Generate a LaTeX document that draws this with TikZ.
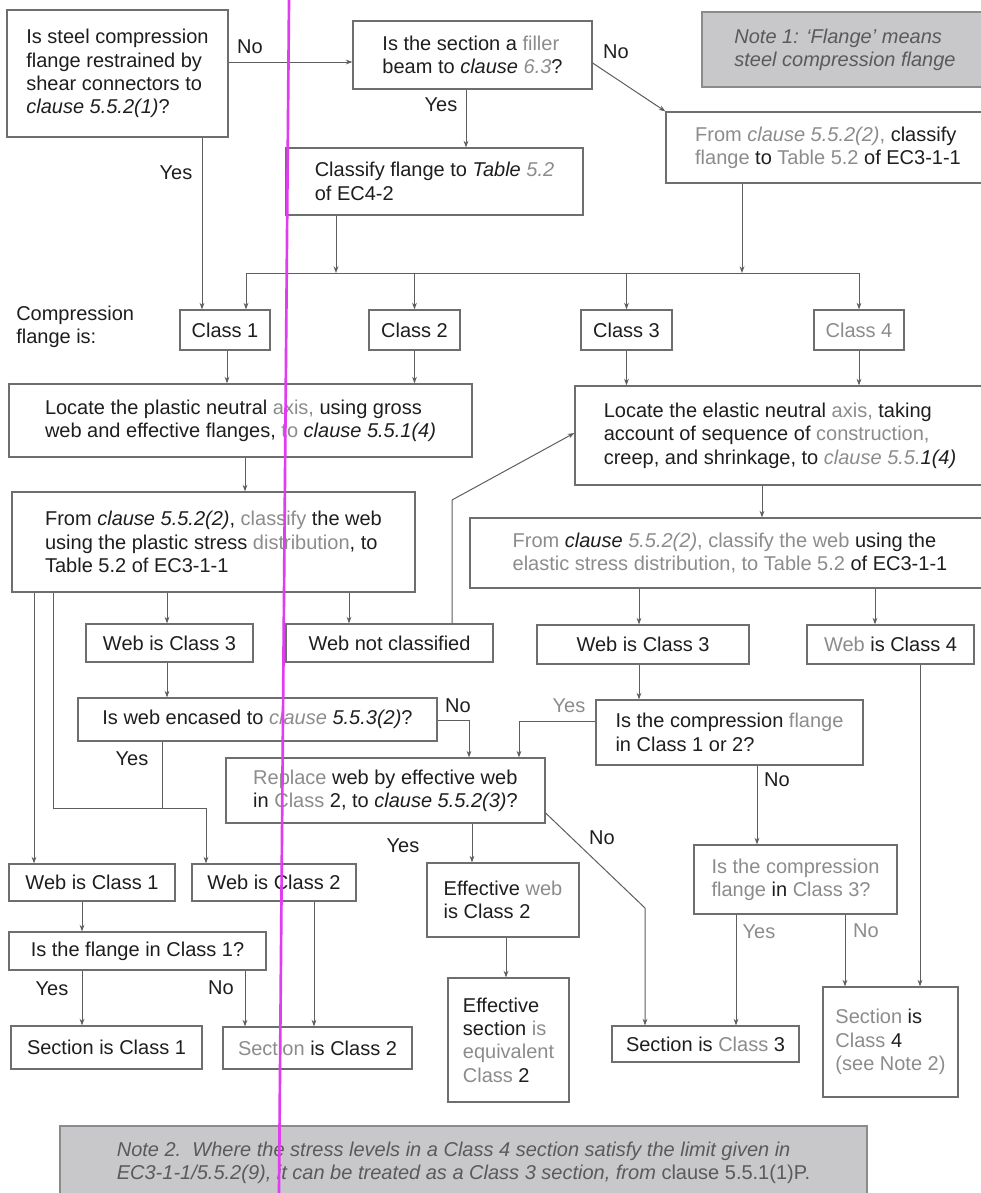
\documentclass[tikz,border=0pt]{standalone}
\usepackage{fontspec}
\setmainfont{Liberation Sans}
\usetikzlibrary{arrows.meta}
\definecolor{dk}{HTML}{1E1E1E}
\definecolor{lt}{HTML}{8C8C8C}
\definecolor{ln}{HTML}{5E5E5E}
\definecolor{bd}{HTML}{6E6E6E}
\definecolor{notefill}{HTML}{C8C8CA}
\definecolor{notetext}{HTML}{5A5A5A}
\definecolor{guide}{HTML}{E03CF0}
\newcommand\gw[1]{\textcolor{lt}{#1}}
\newcommand\mkbox[7][]{\node[box,#1,minimum width={(#5-#3)*0.75pt},minimum height={(#6-#4)*0.75pt}] (#2) at ({(#3+#5)/2},{(#4+#6)/2}) {#7};}
\tikzset{
  box/.style={draw=bd,line width=0.9pt,fill=white,inner sep=0pt,align=left,text=dk},
  notebox/.style={box,fill=notefill,draw=bd!80,text=notetext,font=\fontsize{15}{17.5}\selectfont\itshape},
  arr/.style={draw=ln,line width=0.75pt,-{Stealth[length=5pt,width=3.6pt]}},
  cn/.style={draw=ln,line width=0.75pt},
  lbl/.style={inner sep=0pt,text=dk},
}
\begin{document}
\begin{tikzpicture}[x=0.75pt,y=-0.75pt,font=\fontsize{15}{17.5}\selectfont]
\useasboundingbox (0,0) rectangle (981,1193);
\fill[white] (0,0) rectangle (981,1193);

% boxes
\mkbox{A}{7}{10}{228}{137}{Is steel compression\\flange restrained by\\shear connectors to\\\textit{clause 5.5.2(1)}?}
\mkbox{B}{353}{21}{592}{89}{Is the section a \gw{filler}\\beam to \textit{clause \gw{6.3}}?}
\mkbox{C}{286}{148}{583}{215}{Classify flange to \textit{Table} \gw{\textit{5.2}}\\of EC4-2}
\mkbox[notebox]{NA}{702}{12}{988}{87}{Note 1: `Flange' means\\steel compression flange}
\mkbox{D}{666}{112}{990}{183}{\gw{From \textit{clause 5.5.2(2)},} classify\\\gw{flange} to \gw{Table 5.2} of EC3-1-1}
\mkbox{C1}{180}{310}{270}{350}{Class 1}
\mkbox{C2}{369}{310}{460}{350}{Class 2}
\mkbox{C3}{581}{310}{672}{350}{Class 3}
\mkbox{C4}{814}{310}{904}{350}{\gw{Class 4}}
\mkbox{E}{9}{384}{472}{457}{Locate the plastic neutral \gw{axis,} using gross\\web and effective flanges, \gw{to} \textit{clause 5.5.1(4)}}
\mkbox{F}{575}{386}{985}{485}{Locate the elastic neutral \gw{axis,} taking\\account of sequence of \gw{construction,}\\creep, and shrinkage, to \textit{\gw{clause 5.5.}1(4)}}
\mkbox{G}{12}{492}{415}{592}{From \textit{clause 5.5.2(2)}, \gw{classify} the web\\using the plastic stress \gw{distribution}, to\\Table 5.2 of EC3-1-1}
\mkbox{H}{470}{518}{990}{588}{\gw{From} \textit{clause \gw{5.5.2(2)}}\gw{, classify the web} using the\\\gw{elastic stress distribution, to Table 5.2} of EC3-1-1}
\mkbox{I}{286}{624}{493}{662}{Web not classified}
\mkbox{J}{86}{624}{253}{662}{Web is Class 3}
\mkbox{J2}{537}{625}{749}{664}{Web is Class 3}
\mkbox{W4}{807}{625}{974}{664}{\gw{Web} is Class 4}
\mkbox{K}{78}{698}{437}{741}{Is web encased to \textit{\gw{clause} 5.5.3(2)}?}
\mkbox{U}{596}{700}{863}{765}{Is the compression \gw{flange}\\in Class 1 or 2?}
\mkbox{L}{226}{758}{545}{823}{\gw{Replace} web by effective web\\in \gw{Class} 2, to \textit{clause 5.5.2(3)}?}
\mkbox{M}{9}{864}{175}{901}{Web is Class 1}
\mkbox{N}{192}{864}{356}{901}{Web is Class 2}
\mkbox{R}{427}{863}{579}{937}{Effective \gw{web}\\is Class 2}
\mkbox{V}{694}{845}{897}{914}{\gw{Is the compression}\\\gw{flange} in \gw{Class 3?}}
\mkbox{O}{9}{932}{266}{970}{Is the flange in Class 1?}
\mkbox{S}{448}{978}{569}{1102}{Effective\\section \gw{is}\\\gw{equivalent}\\\gw{Class} 2}
\mkbox{X}{823}{987}{958}{1097}{\gw{Section} is\\\gw{Class} 4\\\gw{(see Note 2)}}
\mkbox{P}{11}{1026}{202}{1069}{Section is Class 1}
\mkbox{Q}{223}{1027}{412}{1069}{\gw{Section} is Class 2}
\mkbox{T}{612}{1026}{799}{1062}{Section is \gw{Class} 3}
\mkbox[notebox]{NB}{60}{1126}{867}{1200}{Note 2.\ \ Where the stress levels in a Class 4 section satisfy the limit given in\\EC3-1-1/5.5.2(9), it can be treated as a Class 3 section, from \upshape clause 5.5.1(1)P.}

\node[lbl,anchor=west,align=left] (CFI) at (16,327) {Compression\\flange is:};

% connectors
\draw[arr] (A.east |- 0,62) -- (B.west |- 0,62);
\node[lbl] (noA) at (250,47) {No};
\draw[arr] (B.south -| 466,0) -- (C.north -| 466,0);
\node[lbl] (yesB) at (441,105) {Yes};
\draw[arr] (B.east |- 0,63) -- (D.north west);
\node[lbl] (noB) at (616,52) {No};

\coordinate (busL) at (246,273);
\coordinate (busR) at (859,273);
\draw[cn] (busL) -- (busR);
\draw[arr] (C.south -| 336,0) -- (busL -| 336,0);
\draw[arr] (D.south -| 742,0) -- (busL -| 742,0);
\draw[arr] (busL) -- (C1.north -| busL);
\draw[arr] (C2.north |- busL) -- (C2.north);
\draw[arr] (C3.north |- busL) -- (C3.north);
\draw[arr] (C4.north |- busL) -- (C4.north);
\draw[arr] (A.south -| 202,0) -- (C1.north -| 202,0);
\node[lbl] (yesA) at (176,173) {Yes};

\draw[arr] (C1.south -| 227,0) -- (E.north -| 227,0);
\draw[arr] (C2.south) -- (E.north -| C2.south);
\draw[arr] (C3.south) -- (F.north -| C3.south);
\draw[arr] (C4.south) -- (F.north -| C4.south);
\draw[arr] (E.south -| 245,0) -- (G.north -| 245,0);
\draw[arr] (F.south -| 762,0) -- (H.north -| 762,0);

\draw[arr] (G.south -| 34,0) -- (M.north -| 34,0);
\draw[arr] (G.south -| 53,0) -- (53,808) -- (206,808) -- (N.north -| 206,0);
\draw[arr] (G.south -| 167,0) -- (J.north -| 167,0);
\draw[arr] (G.south -| 349,0) -- (I.north -| 349,0);
\draw[arr] (I.north -| 452,0) -- (452,500) -- (F.west |- 0,433);
\draw[arr] (J.south -| 167,0) -- (K.north -| 167,0);
\draw[arr] (K.east |- 0,720) -- (469,720) -- (L.north -| 469,0);
\node[lbl] (noK) at (458,706) {No};
\draw[cn] (K.south -| 162,0) -- (162,808);
\node[lbl] (yesK) at (132,759) {Yes};

\draw[arr] (L.south -| 472,0) -- (R.north -| 472,0);
\node[lbl] (yesL) at (403,846) {Yes};
\draw[arr] (L.east |- 0,813) -- (645,908) -- (T.north -| 645,0);
\node[lbl] (noL) at (602,838) {No};
\draw[arr] (R.south -| 506,0) -- (S.north -| 506,0);

\draw[arr] (H.south -| 639,0) -- (J2.north -| 639,0);
\draw[arr] (H.south -| 875,0) -- (W4.north -| 875,0);
\draw[arr] (J2.south -| 639,0) -- (U.north -| 639,0);
\draw[arr] (U.west |- 0,721) -- (519,721) -- (L.north -| 519,0);
\node[lbl,text=lt] (yesU) at (569,706) {Yes};
\draw[arr] (U.south -| 757,0) -- (V.north -| 757,0);
\node[lbl] (noU) at (777,780) {No};
\draw[arr] (V.south -| 736,0) -- (T.north -| 736,0);
\node[lbl,text=lt] (yesV) at (759,932) {Yes};
\draw[arr] (V.south -| 845,0) -- (X.north -| 845,0);
\node[lbl,text=lt] (noV) at (866,931) {No};
\draw[arr] (W4.south -| 920,0) -- (X.north -| 920,0);

\draw[arr] (M.south -| 82,0) -- (O.north -| 82,0);
\draw[arr] (O.south -| 82,0) -- (P.north -| 82,0);
\node[lbl] (yesO) at (52,989) {Yes};
\draw[arr] (O.south -| 245,0) -- (Q.north -| 245,0);
\node[lbl] (noO) at (221,988) {No};
\draw[arr] (N.south -| 314,0) -- (Q.north -| 314,0);

% vertical guide line visible in the reference
\draw[guide,line width=2pt] (289,0) -- (279,1193);
\end{tikzpicture}
\end{document}
